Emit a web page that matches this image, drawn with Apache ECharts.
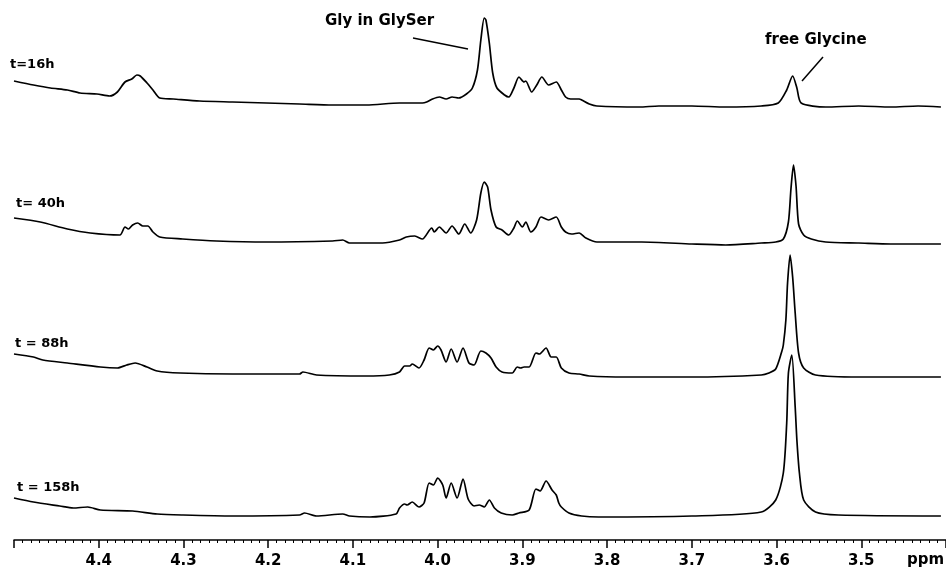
<!DOCTYPE html>
<html>
<head>
    <meta charset="utf-8" />
    <title>GlySer hydrolysis NMR</title>
    <script src="https://cdn.jsdelivr.net/npm/echarts@6.0.0/dist/echarts.min.js"></script>
    <style>
        * { margin: 0; padding: 0; box-sizing: border-box; }
        body { background: #fff; }
        #chart { width: 946px; height: 571px; }
    </style>
</head>
<body>
    <div id="chart"></div>

    <script>
        // spectra: [ppm, intensity], intensity relative to the flat right-hand baseline
        const spec16h = [
            [4.500, 26], [4.477, 22], [4.457, 19], [4.437, 17], [4.422, 14], [4.402, 13], [4.387, 11],
            [4.378, 15], [4.369, 25], [4.361, 28], [4.355, 32], [4.351, 31], [4.343, 24], [4.336, 17],
            [4.328, 9], [4.312, 8], [4.281, 6], [4.242, 5], [4.202, 4], [4.163, 3], [4.124, 2], [4.084, 2],
            [4.045, 4], [4.018, 4], [4.013, 5], [4.006, 8], [3.998, 10], [3.990, 8], [3.983, 10], [3.975, 9],
            [3.966, 13], [3.959, 19], [3.953, 37], [3.949, 67], [3.945, 89], [3.943, 87], [3.939, 64],
            [3.935, 34], [3.930, 19], [3.921, 12], [3.916, 10], [3.910, 19], [3.904, 30], [3.898, 25],
            [3.896, 26], [3.889, 15], [3.883, 22], [3.877, 30], [3.869, 22], [3.860, 25], [3.854, 17],
            [3.849, 10], [3.843, 8], [3.833, 8], [3.830, 7], [3.821, 3], [3.812, 1], [3.762, 0], [3.739, 1],
            [3.700, 1], [3.660, 0], [3.618, 1], [3.598, 4], [3.588, 17], [3.581, 31], [3.576, 19],
            [3.571, 4], [3.542, 0], [3.503, 1], [3.465, 0], [3.433, 1], [3.406, 0]
        ];
        const spec40h = [
            [4.500, 26], [4.469, 22], [4.437, 15], [4.410, 11], [4.375, 9], [4.369, 17], [4.365, 15],
            [4.360, 19], [4.354, 21], [4.348, 18], [4.342, 18], [4.336, 12], [4.328, 7], [4.301, 5],
            [4.261, 3], [4.202, 2], [4.124, 3], [4.112, 4], [4.104, 1], [4.065, 1], [4.045, 4], [4.037, 7],
            [4.027, 8], [4.018, 5], [4.007, 16], [4.004, 12], [3.998, 17], [3.990, 11], [3.983, 18],
            [3.975, 10], [3.968, 20], [3.961, 11], [3.954, 24], [3.949, 51], [3.945, 62], [3.941, 57],
            [3.937, 34], [3.931, 17], [3.924, 14], [3.916, 9], [3.910, 16], [3.906, 23], [3.900, 17],
            [3.896, 22], [3.890, 12], [3.884, 17], [3.878, 27], [3.869, 24], [3.860, 27], [3.854, 17],
            [3.849, 12], [3.842, 10], [3.833, 11], [3.825, 6], [3.812, 2], [3.759, 2], [3.700, 0],
            [3.660, -1], [3.618, 1], [3.601, 2], [3.592, 5], [3.586, 22], [3.583, 55], [3.580, 79],
            [3.577, 58], [3.574, 20], [3.568, 9], [3.559, 5], [3.542, 2], [3.503, 1], [3.465, 0], [3.406, 0]
        ];
        const spec88h = [
            [4.500, 23], [4.477, 20], [4.466, 17], [4.437, 14], [4.398, 10], [4.378, 9], [4.367, 12],
            [4.357, 14], [4.343, 10], [4.331, 6], [4.304, 4], [4.242, 3], [4.163, 3], [4.159, 5],
            [4.143, 2], [4.084, 1], [4.057, 2], [4.045, 5], [4.039, 11], [4.033, 11], [4.030, 13],
            [4.022, 9], [4.016, 17], [4.010, 29], [4.005, 27], [4.000, 31], [3.996, 27], [3.990, 15],
            [3.984, 28], [3.977, 15], [3.970, 29], [3.963, 14], [3.957, 12], [3.949, 26], [3.943, 24],
            [3.937, 19], [3.931, 10], [3.924, 5], [3.912, 4], [3.906, 10], [3.902, 9], [3.898, 10],
            [3.892, 10], [3.884, 24], [3.880, 23], [3.872, 29], [3.866, 20], [3.860, 20], [3.854, 9],
            [3.845, 4], [3.833, 3], [3.821, 1], [3.778, 0], [3.700, 0], [3.618, 2], [3.609, 4],
            [3.601, 8], [3.594, 25], [3.592, 32], [3.589, 57], [3.587, 94], [3.584, 122], [3.581, 100],
            [3.578, 64], [3.574, 24], [3.568, 9], [3.554, 2], [3.503, 0], [3.406, 0]
        ];
        const spec158h = [
            [4.500, 18], [4.477, 14], [4.446, 10], [4.430, 8], [4.413, 9], [4.398, 6], [4.360, 5],
            [4.331, 2], [4.301, 1], [4.242, 0], [4.163, 1], [4.157, 3], [4.143, 0], [4.112, 2], [4.104, 0],
            [4.080, -1], [4.049, 2], [4.045, 8], [4.039, 12], [4.036, 11], [4.030, 14], [4.022, 9],
            [4.016, 13], [4.010, 33], [4.005, 31], [4.000, 38], [3.994, 31], [3.990, 18], [3.984, 33],
            [3.977, 18], [3.970, 37], [3.964, 17], [3.957, 10], [3.951, 11], [3.945, 9], [3.939, 16],
            [3.933, 8], [3.925, 3], [3.912, 1], [3.904, 3], [3.892, 6], [3.884, 27], [3.879, 25],
            [3.872, 35], [3.865, 26], [3.860, 21], [3.857, 13], [3.854, 9], [3.845, 3], [3.830, 0],
            [3.810, -1], [3.700, 0], [3.618, 4], [3.601, 16], [3.592, 43], [3.588, 93], [3.586, 143],
            [3.582, 161], [3.578, 109], [3.576, 76], [3.573, 43], [3.568, 16], [3.554, 4], [3.527, 1],
            [3.406, 0]
        ];

        const traceLabels = ['t=16h', 't= 40h', 't = 88h', 't = 158h'];
        const spectra = [spec16h, spec40h, spec88h, spec158h];

        // layout of the stack (pixel rows of each baseline, label anchors)
        const baselines = [107, 244, 377, 516];
        const labelPos = [[10, 66], [16, 205], [15, 345], [17, 489]];
        const plotHeight = 540;
        const font = 'DejaVu Sans';

        const chart = echarts.init(document.getElementById('chart'), null, { renderer: 'canvas' });

        const yAxes = baselines.map(b => ({
            type: 'value',
            gridIndex: 0,
            show: false,
            min: b - plotHeight,
            max: b
        }));

        const series = spectra.map((d, i) => ({
            type: 'line',
            name: traceLabels[i],
            yAxisIndex: i,
            data: d,
            showSymbol: false,
            smooth: 0.25,
            clip: false,
            lineStyle: { color: '#000', width: 1.7 },
            silent: true
        }));

        const graphics = traceLabels.map((t, i) => ({
            type: 'text',
            left: labelPos[i][0],
            top: labelPos[i][1] - 8,
            style: { text: t, font: 'bold 13px "' + font + '"', fill: '#000' }
        }));

        graphics.push(
            { type: 'text', left: 325, top: 14, style: { text: 'Gly in GlySer', font: 'bold 15px "' + font + '"', fill: '#000' } },
            { type: 'line', shape: { x1: 413, y1: 38, x2: 468, y2: 49 }, style: { stroke: '#000', lineWidth: 1.5 } },
            { type: 'text', left: 765, top: 33, style: { text: 'free Glycine', font: 'bold 15px "' + font + '"', fill: '#000' } },
            { type: 'line', shape: { x1: 823, y1: 57, x2: 802, y2: 81 }, style: { stroke: '#000', lineWidth: 1.5 } },
            { type: 'text', left: 907, top: 553, style: { text: 'ppm', font: 'bold 15px "' + font + '"', fill: '#000' } }
        );

        const option = {
            backgroundColor: '#fff',
            animation: false,
            grid: { left: 14, right: -2, top: 0, bottom: 571 - plotHeight, containLabel: false },
            xAxis: {
                type: 'value',
                min: 3.4,
                max: 4.5,
                interval: 0.1,
                inverse: true,
                axisLine: { show: true, onZero: false, lineStyle: { color: '#000', width: 1.5 } },
                axisTick: { show: true, length: 8, lineStyle: { color: '#000', width: 1.5 } },
                minorTick: { show: true, splitNumber: 10, length: 3, lineStyle: { color: '#000', width: 1 } },
                splitLine: { show: false },
                minorSplitLine: { show: false },
                axisLabel: {
                    showMinLabel: false,
                    showMaxLabel: false,
                    margin: 14,
                    color: '#000',
                    fontFamily: font,
                    fontWeight: 'bold',
                    fontSize: 15,
                    formatter: v => v.toFixed(1)
                }
            },
            yAxis: yAxes,
            series: series,
            graphic: graphics
        };

        chart.setOption(option);
    </script>
</body>
</html>
